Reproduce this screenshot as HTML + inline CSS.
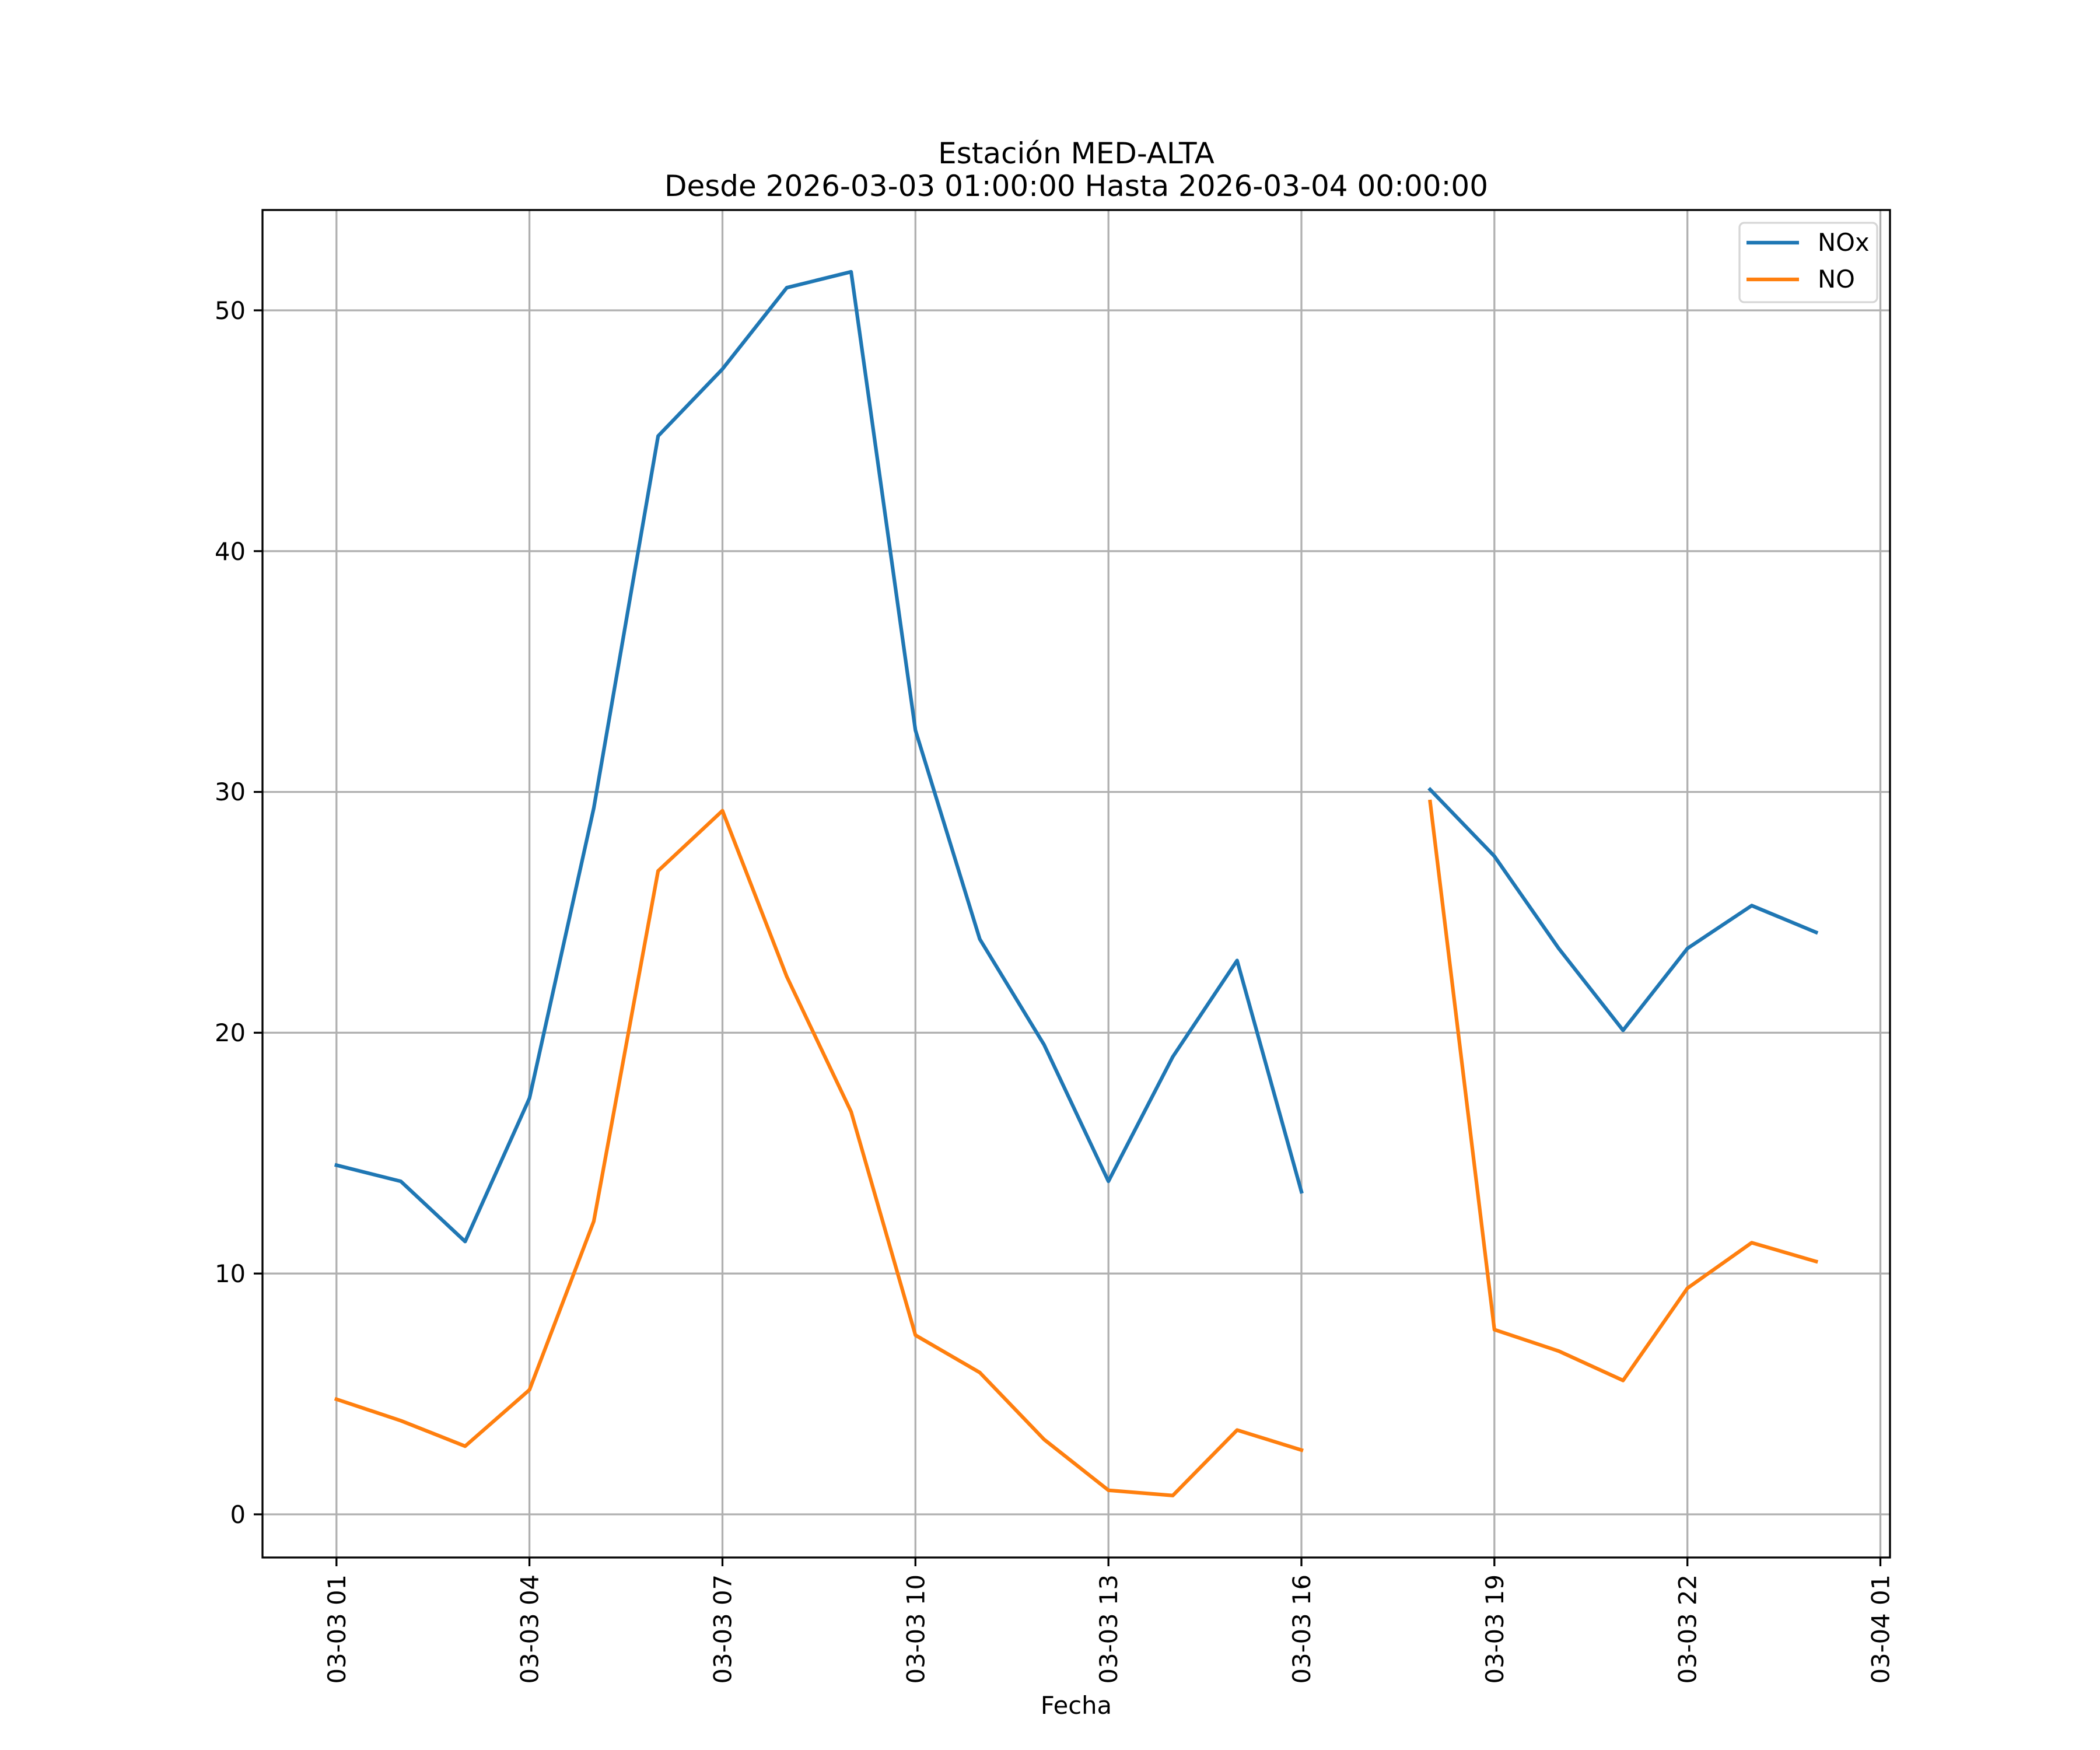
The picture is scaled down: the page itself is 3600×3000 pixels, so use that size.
<!DOCTYPE html>
<html><head><meta charset="utf-8"><style>
html,body{margin:0;padding:0;background:#fff;}
svg{display:block;font-family:"DejaVu Sans","Liberation Sans",sans-serif;}
</style></head><body>
<svg width="3600" height="3000" viewBox="0 0 3600 3000" xmlns="http://www.w3.org/2000/svg">
<rect width="3600" height="3000" fill="#fff"/>
<g stroke="#b0b0b0" stroke-width="3.3">
<line x1="576.8" y1="360" x2="576.8" y2="2670"/>
<line x1="907.6" y1="360" x2="907.6" y2="2670"/>
<line x1="1238.5" y1="360" x2="1238.5" y2="2670"/>
<line x1="1569.3" y1="360" x2="1569.3" y2="2670"/>
<line x1="1900.2" y1="360" x2="1900.2" y2="2670"/>
<line x1="2231" y1="360" x2="2231" y2="2670"/>
<line x1="2561.8" y1="360" x2="2561.8" y2="2670"/>
<line x1="2892.7" y1="360" x2="2892.7" y2="2670"/>
<line x1="3223.5" y1="360" x2="3223.5" y2="2670"/>
<line x1="450" y1="2596" x2="3240" y2="2596"/>
<line x1="450" y1="2183.2" x2="3240" y2="2183.2"/>
<line x1="450" y1="1770.4" x2="3240" y2="1770.4"/>
<line x1="450" y1="1357.6" x2="3240" y2="1357.6"/>
<line x1="450" y1="944.8" x2="3240" y2="944.8"/>
<line x1="450" y1="532" x2="3240" y2="532"/>
</g>
<g transform="translate(576.8,2596) scale(110.28,-41.28)" fill="none" stroke-width="6.25" stroke-linejoin="round" stroke-linecap="square">
<polyline vector-effect="non-scaling-stroke" stroke="#1f77b4" points="0,14.5 1,13.83 2,11.33 3,17.28 4,29.33 5,44.78 6,47.56 7,50.94 8,51.6 9,32.56 10,23.89 11,19.5 12,13.83 13,19 14,23 15,13.4"/>
<polyline vector-effect="non-scaling-stroke" stroke="#1f77b4" points="17,30.1 18,27.33 19,23.5 20,20.1 21,23.5 22,25.28 23,24.17"/>
<polyline vector-effect="non-scaling-stroke" stroke="#ff7f0e" points="0,4.78 1,3.89 2,2.83 3,5.17 4,12.17 5,26.72 6,29.22 7,22.33 8,16.72 9,7.44 10,5.89 11,3.11 12,1 13,0.78 14,3.5 15,2.67"/>
<polyline vector-effect="non-scaling-stroke" stroke="#ff7f0e" points="17,29.6 18,7.67 19,6.78 20,5.56 21,9.39 22,11.28 23,10.5"/>
</g>
<rect x="450" y="360" width="2790" height="2310" fill="none" stroke="#000" stroke-width="3.3"/>
<g stroke="#000" stroke-width="3.3">
<line x1="576.8" y1="2670" x2="576.8" y2="2685"/>
<line x1="907.6" y1="2670" x2="907.6" y2="2685"/>
<line x1="1238.5" y1="2670" x2="1238.5" y2="2685"/>
<line x1="1569.3" y1="2670" x2="1569.3" y2="2685"/>
<line x1="1900.2" y1="2670" x2="1900.2" y2="2685"/>
<line x1="2231" y1="2670" x2="2231" y2="2685"/>
<line x1="2561.8" y1="2670" x2="2561.8" y2="2685"/>
<line x1="2892.7" y1="2670" x2="2892.7" y2="2685"/>
<line x1="3223.5" y1="2670" x2="3223.5" y2="2685"/>
<line x1="435" y1="2596" x2="450" y2="2596"/>
<line x1="435" y1="2183.2" x2="450" y2="2183.2"/>
<line x1="435" y1="1770.4" x2="450" y2="1770.4"/>
<line x1="435" y1="1357.6" x2="450" y2="1357.6"/>
<line x1="435" y1="944.8" x2="450" y2="944.8"/>
<line x1="435" y1="532" x2="450" y2="532"/>
</g>
<g font-size="41.7" fill="#000" text-anchor="end">
<text x="421" y="2611">0</text>
<text x="421" y="2198">10</text>
<text x="421" y="1785">20</text>
<text x="421" y="1372">30</text>
<text x="421" y="960">40</text>
<text x="421" y="547">50</text>
<text transform="translate(591.8,2699) rotate(-90)">03-03 01</text>
<text transform="translate(922.6,2699) rotate(-90)">03-03 04</text>
<text transform="translate(1253.5,2699) rotate(-90)">03-03 07</text>
<text transform="translate(1584.3,2699) rotate(-90)">03-03 10</text>
<text transform="translate(1915.2,2699) rotate(-90)">03-03 13</text>
<text transform="translate(2246,2699) rotate(-90)">03-03 16</text>
<text transform="translate(2576.8,2699) rotate(-90)">03-03 19</text>
<text transform="translate(2907.7,2699) rotate(-90)">03-03 22</text>
<text transform="translate(3238.5,2699) rotate(-90)">03-04 01</text>
</g>
<text x="1845" y="2938" font-size="41.7" text-anchor="middle">Fecha</text>
<text x="1845" y="280" font-size="50" text-anchor="middle">Estación MED-ALTA</text>
<text x="1845" y="336" font-size="50" text-anchor="middle">Desde 2026-03-03 01:00:00 Hasta 2026-03-04 00:00:00</text>
<rect x="2982" y="382" width="236" height="136" rx="8" fill="#fff" fill-opacity="0.8" stroke="#d6d6d6" stroke-width="3.3"/>
<line x1="2994" y1="416" x2="3084" y2="416" stroke="#1f77b4" stroke-width="6.25"/>
<line x1="2994" y1="479" x2="3084" y2="479" stroke="#ff7f0e" stroke-width="6.25"/>
<text x="3116" y="430" font-size="41.7">NOx</text>
<text x="3116" y="493" font-size="41.7">NO</text>
</svg>
</body></html>
